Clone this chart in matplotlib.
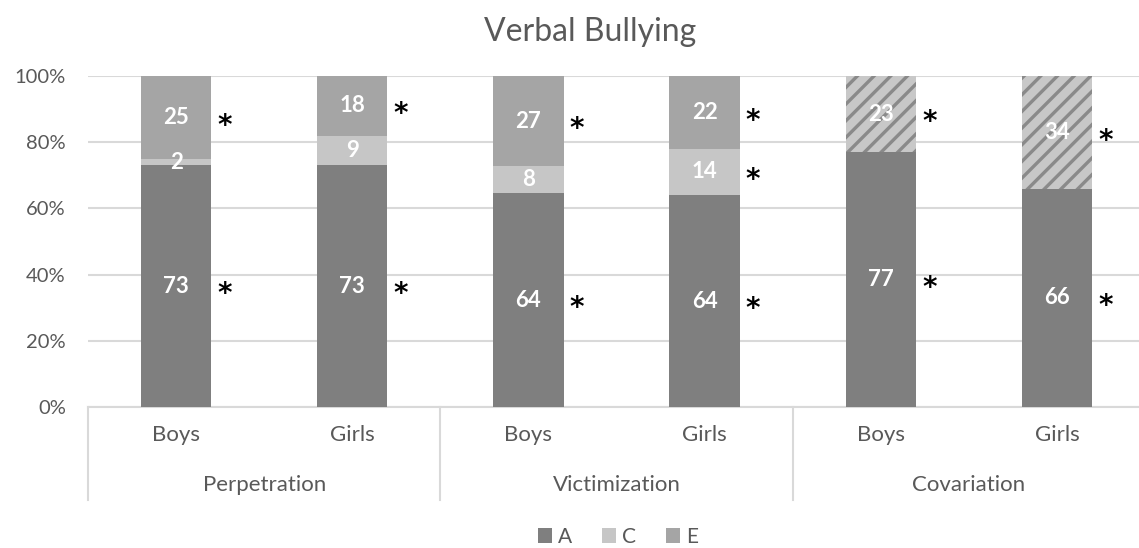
import matplotlib.pyplot as plt
import matplotlib.transforms as mtransforms
from matplotlib.patches import Patch
import numpy as np

plt.rcParams['font.family'] = ['Lato', 'DejaVu Sans']
plt.rcParams['hatch.linewidth'] = 2.4

groups = ['Perpetration', 'Victimization', 'Covariation']
sexes = ['Boys', 'Girls']

# A, C, E estimates per bar (Perp boys, Perp girls, Vict boys, Vict girls, Cov boys, Cov girls)
a_vals = [73, 73, 64, 64, 77, 66]
c_vals = [2, 9, 8, 14, 0, 0]
e_vals = [25, 18, 27, 22, 23, 34]

# significance flags (asterisks)
a_sig = [True, True, True, True, True, True]
c_sig = [False, False, False, True, False, False]
e_sig = [True, True, True, True, True, True]

e_hatched = [False, False, False, False, True, True]

col_a = '#7f7f7f'
col_c = '#c6c6c6'
col_e = '#a5a5a5'
txt_col = '#595959'
grid_col = '#d9d9d9'

fig = plt.figure(figsize=(11.39, 5.48), dpi=100)
ax = fig.add_axes([88 / 1139, 141 / 548, 1057 / 1139, 331 / 548])

x = np.arange(len(a_vals))
w = 0.4
# 100% stacked: each bar is scaled to its total
totals = np.array(a_vals) + np.array(c_vals) + np.array(e_vals)
bottom = np.zeros(len(x))
segments = [(a_vals, col_a, a_sig), (c_vals, col_c, c_sig), (e_vals, col_e, e_sig)]
for k, (vals, col, sig) in enumerate(segments):
    vals = np.array(vals, dtype=float)
    pct = vals / totals * 100
    for i in range(len(x)):
        if vals[i] == 0:
            continue
        if k == 2 and e_hatched[i]:
            ax.bar(x[i], pct[i], w, bottom=bottom[i], color='#c8c8c8',
                   edgecolor='#8a8a8a', hatch='//', linewidth=0, zorder=3)
        else:
            ax.bar(x[i], pct[i], w, bottom=bottom[i], color=col, linewidth=0, zorder=3)
        mid = bottom[i] + pct[i] / 2
        ax.text(x[i], mid, f'{vals[i]:.0f}', ha='center', va='center',
                color='white', fontsize=16, fontweight='bold', zorder=4)
        if sig[i]:
            ax.text(x[i] + 0.275, mid - 2.5, '*', ha='center', va='center',
                    color='black', fontsize=20, fontweight='bold',
                    family='DejaVu Sans', zorder=4)
    bottom += pct

ax.set_xlim(-0.5, len(x) - 0.5)
ax.set_ylim(0, 100)
ax.set_yticks(np.arange(0, 101, 20))
ax.set_yticklabels([f'{v}%' for v in range(0, 101, 20)])
ax.yaxis.grid(True, color=grid_col, linewidth=1.5, zorder=0)
ax.set_axisbelow(True)
for s in ['top', 'right', 'left']:
    ax.spines[s].set_visible(False)
ax.spines['bottom'].set_color(grid_col)
ax.spines['bottom'].set_linewidth(1.5)
ax.tick_params(axis='y', length=0, pad=16, labelsize=14.5, labelcolor=txt_col)
ax.set_xticks(x)
ax.set_xticklabels(sexes * len(groups))
ax.tick_params(axis='x', length=0, pad=13, labelsize=16, labelcolor=txt_col)

trans = mtransforms.blended_transform_factory(ax.transData, ax.transAxes)
for g in range(len(groups) + 1):
    xb = g * 2 - 0.5
    ax.plot([xb, xb], [0, -0.281], transform=trans, color=grid_col,
            linewidth=1.5, clip_on=False)
for g, name in enumerate(groups):
    ax.text(g * 2 + 0.5, -0.236, name, transform=trans, ha='center', va='center',
            fontsize=16, color=txt_col)

fig.text(590 / 1139, 1 - 32 / 548, 'Verbal Bullying', ha='center', va='center',
         fontsize=23, color=txt_col)

handles = [Patch(facecolor=col_a, label='A'), Patch(facecolor=col_c, label='C'),
           Patch(facecolor=col_e, label='E')]
fig.legend(handles=handles, loc='center', bbox_to_anchor=(618 / 1139, 11 / 548),
           ncol=3, frameon=False, fontsize=15, labelcolor=txt_col,
           handlelength=0.7, handleheight=0.7, handletextpad=0.3, columnspacing=1.4)

plt.savefig('out.png', dpi=100)
